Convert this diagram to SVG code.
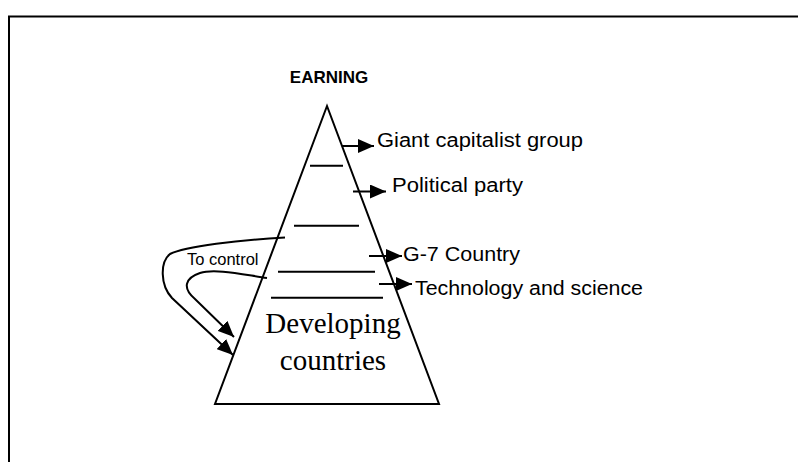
<svg xmlns="http://www.w3.org/2000/svg" width="798" height="462" viewBox="0 0 798 462">
<style>
.ln{stroke:#000;stroke-width:2;fill:none}
.lab{font-family:"Liberation Sans",Arial,sans-serif;font-size:20px;fill:#000}
.ser{font-family:"Liberation Serif","Times New Roman",serif;font-size:29px;fill:#000}
</style>
<defs>
<marker id="ah" markerUnits="userSpaceOnUse" markerWidth="16" markerHeight="14" refX="16" refY="7" orient="auto">
<path d="M0,0 L16,7 L0,14 z" fill="#000"/>
</marker>
</defs>
<rect width="798" height="462" fill="#fff"/>
<path class="ln" d="M9,470 V16.5 H805"/>
<g id="pyramid">
<polygon class="ln" points="327,106 215,404 439,404"/>
<line class="ln" x1="310" y1="165.7" x2="343" y2="165.7"/>
<line class="ln" x1="294" y1="225.7" x2="359" y2="225.7"/>
<line class="ln" x1="278" y1="271.7" x2="375" y2="271.7"/>
<line class="ln" x1="271" y1="297.7" x2="383" y2="297.7"/>
<text class="ser" x="333" y="333" text-anchor="middle">Developing</text>
<text class="ser" x="333" y="370" text-anchor="middle">countries</text>
</g>
<g id="earning"><text x="329" y="83" text-anchor="middle" font-family="Liberation Sans,Arial,sans-serif" font-weight="bold" font-size="17">EARNING</text></g>
<g id="giant"><text class="lab" x="377" y="146.5" textLength="206" lengthAdjust="spacingAndGlyphs">Giant capitalist group</text></g>
<g id="political"><text class="lab" x="392" y="192" textLength="131" lengthAdjust="spacingAndGlyphs">Political party</text></g>
<g id="g7"><text class="lab" x="403" y="260.5" textLength="117" lengthAdjust="spacingAndGlyphs">G-7 Country</text></g>
<g id="tech"><text class="lab" x="415" y="294.5" textLength="228" lengthAdjust="spacingAndGlyphs">Technology and science</text></g>
<g id="tocontrol"><text x="187" y="265" font-family="Liberation Sans,Arial,sans-serif" font-size="16.5">To control</text></g>
<g id="connectors">
<line class="ln" x1="342" y1="146" x2="374" y2="146" marker-end="url(#ah)"/>
<line class="ln" x1="353" y1="191.5" x2="386" y2="191.5" marker-end="url(#ah)"/>
<line class="ln" x1="369" y1="256" x2="402" y2="256" marker-end="url(#ah)"/>
<line class="ln" x1="379" y1="284" x2="412" y2="284" marker-end="url(#ah)"/>
<path class="ln" d="M285,237.5 C240,240 185,246 170,254 C160,262 160,285 172,298 L233,355" marker-end="url(#ah)"/>
<path class="ln" d="M267,278 C245,275 215,268 200,273 C185,278 182,288 195,299 L234,337" marker-end="url(#ah)"/>
</g>
</svg>
